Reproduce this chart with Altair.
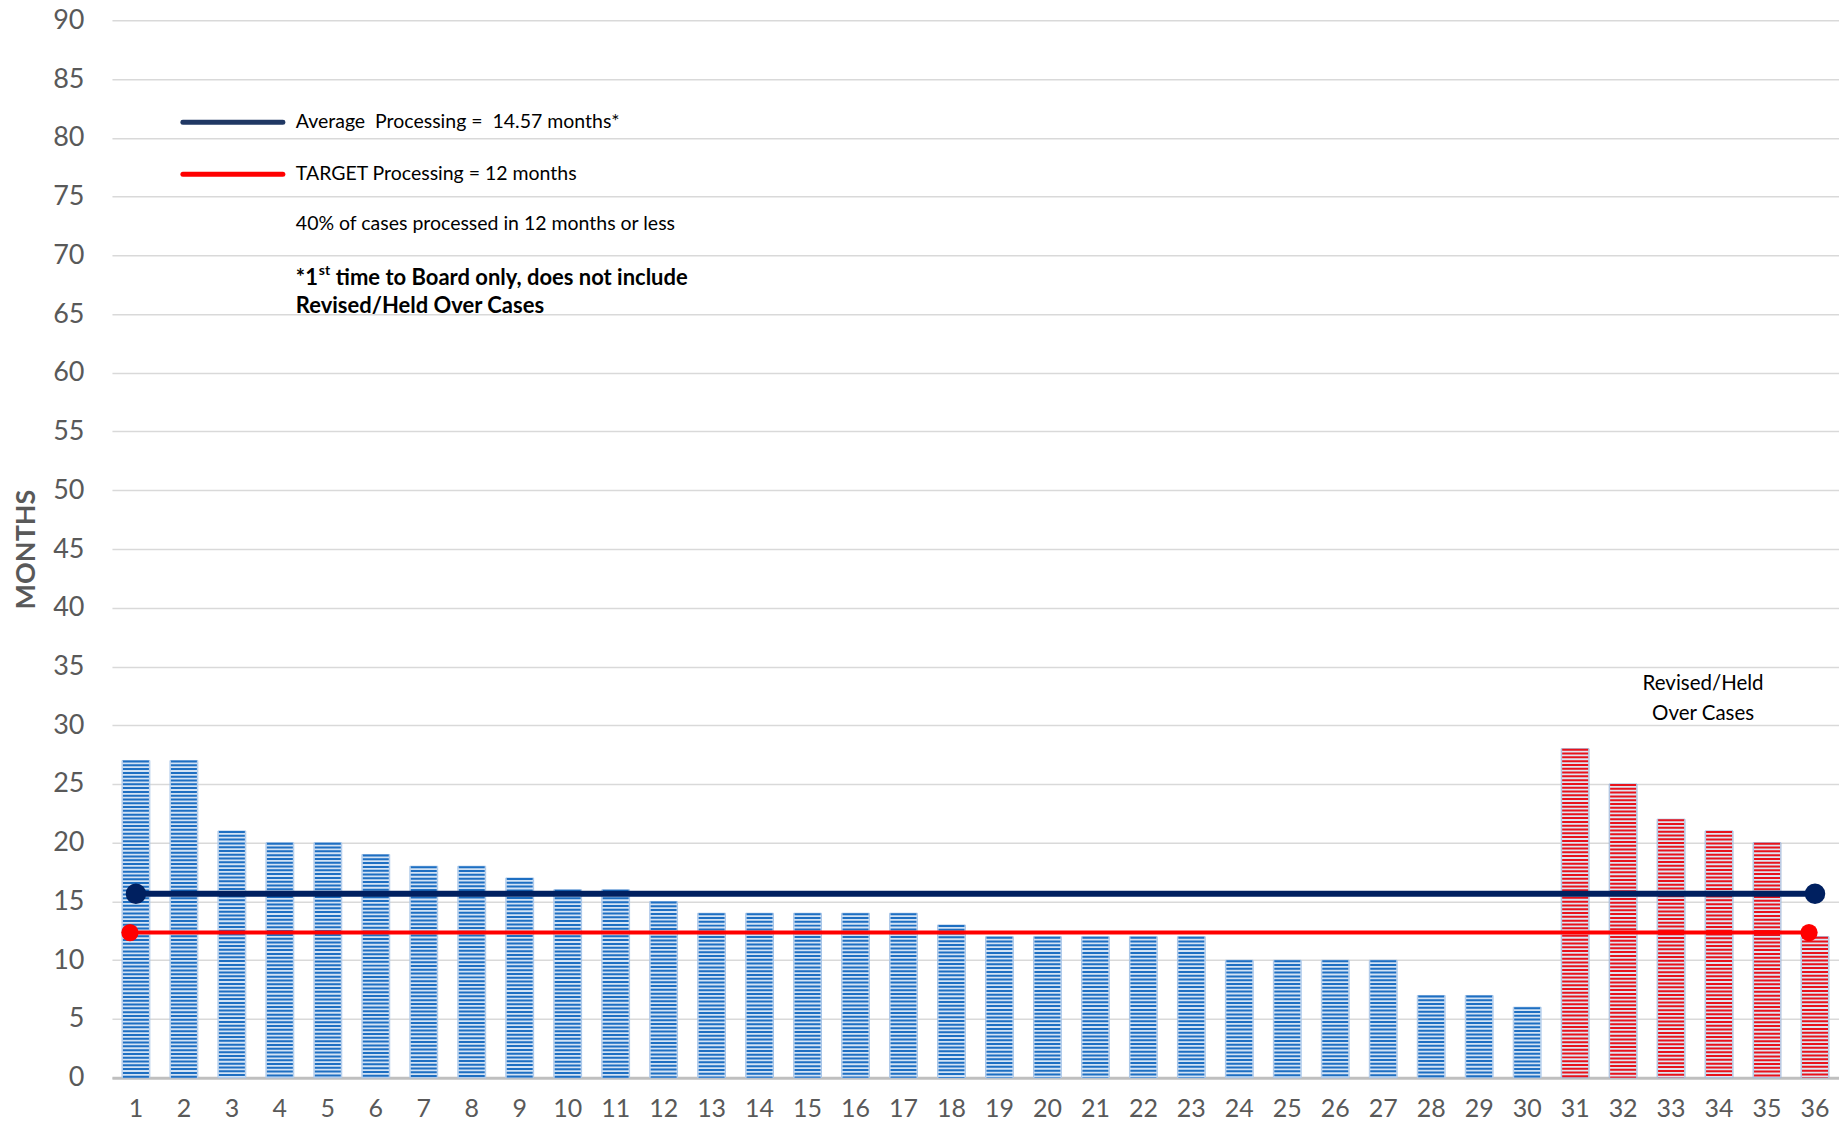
import altair as alt
import pandas as pd

# ---- data ----
cases = list(range(1, 37))
months = [27, 27, 21, 20, 20, 19, 18, 18, 17, 16, 16, 15, 14, 14, 14, 14, 14, 13,
          12, 12, 12, 12, 12, 10, 10, 10, 10, 7, 7, 6,
          28, 25, 22, 21, 20, 12]
groups = ["First time"] * 30 + ["Revised/Held Over"] * 6

line_names = ["Average", "Target"]
line_levels = [15.65, 12.35]
line_ends = [1, 36]

FONT = "Lato"
NB = "\u00a0"

bars = pd.DataFrame({"case": cases, "months": months, "group": groups})
lines = pd.DataFrame({
    "series": [n for n in line_names for _ in line_ends],
    "case": line_ends * len(line_names),
    "months": [v for v in line_levels for _ in line_ends],
})

x_enc = alt.X("case:O", scale=alt.Scale(paddingInner=0.42, paddingOuter=0.21),
              axis=alt.Axis(title=None, labelAngle=0, labelFontSize=25, labelColor="#595959",
                            labelFont=FONT, ticks=False, domain=True, domainColor="#bfbfbf",
                            domainWidth=3, grid=False, labelPadding=19))
y_scale = alt.Scale(domain=[0, 90], nice=False)
y_axis = alt.Axis(values=list(range(0, 91, 5)), title="MONTHS", titleFontSize=27,
                  titleFontWeight="bold", titleColor="#595959", titleFont=FONT,
                  titlePadding=12, labelFontSize=27, labelColor="#595959", labelFont=FONT,
                  labelPadding=28, domain=False, ticks=False, grid=True,
                  gridColor="#d9d9d9", gridWidth=1.5)

bg = alt.Chart(bars).mark_bar(strokeWidth=1).encode(
    x=x_enc,
    y=alt.Y("months:Q", scale=y_scale, axis=y_axis),
    fill=alt.Fill("group:N", scale=alt.Scale(domain=["First time", "Revised/Held Over"],
                                             range=["#d3e3f5", "#dfe4f0"]), legend=None),
    stroke=alt.Stroke("group:N", scale=alt.Scale(domain=["First time", "Revised/Held Over"],
                                                 range=["#a9c6e8", "#9fb7da"]), legend=None),
)

stripes = alt.Chart(bars).mark_rule(strokeWidth=26, strokeDash=[2, 1.8]).encode(
    x="case:O",
    y="months:Q",
    y2=alt.datum(0),
    color=alt.Color("group:N", scale=alt.Scale(domain=["First time", "Revised/Held Over"],
                                               range=["#1e6fc2", "#e8121c"]), legend=None),
)

avg = lines[lines.series == "Average"]
tgt = lines[lines.series == "Target"]

avg_line = alt.Chart(avg).mark_line(color="#002060", strokeWidth=6).encode(x="case:O", y="months:Q")
avg_pts = alt.Chart(avg).mark_point(filled=True, color="#002060", size=420, opacity=1).encode(
    x="case:O", y="months:Q")
tgt_line = alt.Chart(tgt).mark_line(color="#ff0000", strokeWidth=4, xOffset=-6).encode(
    x="case:O", y="months:Q")
tgt_pts = alt.Chart(tgt).mark_point(filled=True, color="#ff0000", size=300, opacity=1, xOffset=-6).encode(
    x="case:O", y="months:Q")

one = pd.DataFrame({"k": [0]})


def legend_line(color, y):
    return alt.Chart(one).mark_rule(color=color, strokeWidth=5, strokeCap="round").encode(
        x=alt.value(71), x2=alt.value(171), y=alt.value(y))


def note(text, x, y, size=19.5, weight="normal", align="left", dy=0):
    return alt.Chart(one).mark_text(text=text, fontSize=size, fontWeight=weight, font=FONT,
                                    align=align, baseline="middle", color="#000000", dy=dy).encode(
        x=alt.value(x), y=alt.value(y))


annotations = [
    legend_line("#203864", 102),
    legend_line("#ff0000", 154),
    note(f"Average {NB}Processing = {NB}14.57 months*", 184, 102),
    note("TARGET Processing = 12 months", 184, 154),
    note("40% of cases processed in 12 months or less", 184, 204),
    note("*1", 184, 258, size=22, weight="bold"),
    note("st", 207, 258, size=14, weight="bold", dy=-7),
    note("time to Board only, does not include", 224, 258, size=22, weight="bold"),
    note("Revised/Held Over Cases", 184, 286, size=22, weight="bold"),
    note("Revised/Held", 1592, 664, size=20.5, align="center"),
    note("Over Cases", 1592, 694, size=20.5, align="center"),
]

chart = alt.layer(bg, stripes, avg_line, tgt_line, avg_pts, tgt_pts, *annotations).properties(
    width=1728, height=1058,
    padding={"left": 104, "top": 12, "right": 0, "bottom": 43},
    autosize=alt.AutoSizeParams(type="none"),
    background="white",
).configure_view(stroke=None)

chart.save("out.html", embed_options={"renderer": "svg", "actions": False})
